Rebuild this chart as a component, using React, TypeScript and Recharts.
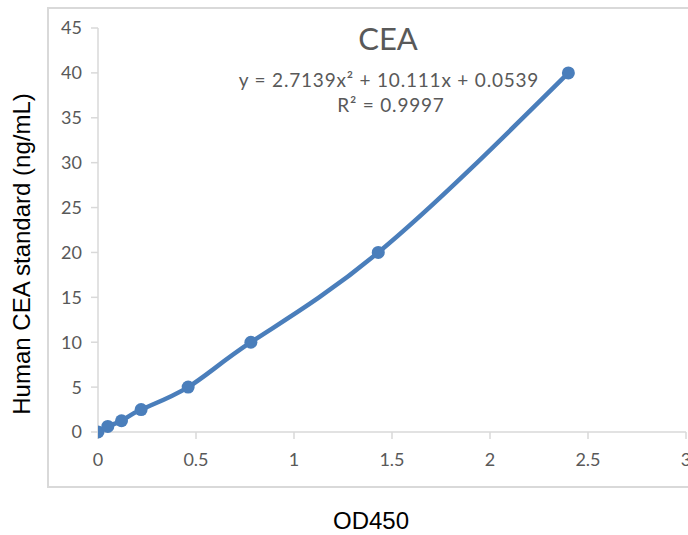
import React from 'react';
import { LineChart, Line, XAxis, YAxis } from 'recharts';

const odValues = [0, 0.05, 0.12, 0.22, 0.46, 0.78, 1.43, 2.4];
const ceaValues = [0, 0.625, 1.25, 2.5, 5, 10, 20, 40];
const xTicks = [0, 0.5, 1, 1.5, 2, 2.5, 3];
const yTicks = [0, 5, 10, 15, 20, 25, 30, 35, 40, 45];

const chartTitle = 'CEA';
const equationText = 'y = 2.7139x² + 10.111x + 0.0539';
const r2Text = 'R² = 0.9997';
const xTitle = 'OD450';
const yTitle = 'Human CEA standard (ng/mL)';

const data = odValues.map((od, i) => ({ od, cea: ceaValues[i] }));

const BLUE = '#4a7ebb';
const AXIS = '#d9d9d9';
const TICK_TEXT = '#595959';
const tickFont = { fill: TICK_TEXT, fontSize: 18, fontFamily: 'Lato, sans-serif' };

export default function App() {
  return (
    <div style={{ position: 'absolute', left: 0, top: 0, width: 688, height: 535, background: '#fff', overflow: 'hidden' }}>
      <div
        style={{
          position: 'absolute',
          left: 47,
          top: 7,
          width: 641,
          height: 481,
          borderTop: `2px solid ${AXIS}`,
          borderLeft: `2px solid ${AXIS}`,
          borderBottom: `2px solid ${AXIS}`,
          boxSizing: 'border-box',
        }}
      />
      <div style={{ position: 'absolute', left: 0, top: 0 }}>
        <LineChart width={688} height={535} data={data} margin={{ top: 28, right: 2, bottom: 73, left: 38 }}>
          <XAxis
            dataKey="od"
            type="number"
            domain={[0, 3]}
            ticks={xTicks}
            height={30}
            tickSize={7}
            tickMargin={14}
            axisLine={{ stroke: AXIS, strokeWidth: 1.5 }}
            tickLine={{ stroke: AXIS, strokeWidth: 1.5 }}
            tick={tickFont}
            interval={0}
            allowDataOverflow
          />
          <YAxis
            dataKey="cea"
            type="number"
            domain={[0, 45]}
            ticks={yTicks}
            width={60}
            tickSize={7}
            tickMargin={9}
            axisLine={{ stroke: AXIS, strokeWidth: 1.5 }}
            tickLine={{ stroke: AXIS, strokeWidth: 1.5 }}
            tick={tickFont}
            interval={0}
          />
          <Line
            type="natural"
            dataKey="cea"
            stroke={BLUE}
            strokeWidth={4.5}
            dot={{ r: 6.5, fill: BLUE, stroke: BLUE, strokeWidth: 0 }}
            activeDot={false}
            isAnimationActive={false}
          />
        </LineChart>
      </div>
      <svg width={688} height={535} style={{ position: 'absolute', left: 0, top: 0, pointerEvents: 'none' }}>
        <text x={388} y={50} textAnchor="middle" fill={TICK_TEXT} fontSize={31} fontFamily="Lato, sans-serif">
          {chartTitle}
        </text>
        <text x={389} y={87} textAnchor="middle" fill={TICK_TEXT} fontSize={19} letterSpacing={0.8} fontFamily="Lato, sans-serif">
          {equationText}
        </text>
        <text x={391} y={112} textAnchor="middle" fill={TICK_TEXT} fontSize={19} letterSpacing={0.8} fontFamily="Lato, sans-serif">
          {r2Text}
        </text>
        <text x={371} y={529} textAnchor="middle" fill="#000" fontSize={24} fontFamily="'Liberation Sans', Arial, sans-serif">
          {xTitle}
        </text>
        <text
          x={30}
          y={254}
          textAnchor="middle"
          fill="#000"
          fontSize={24}
          fontFamily="'Liberation Sans', Arial, sans-serif"
          transform="rotate(-90, 30, 254)"
        >
          {yTitle}
        </text>
      </svg>
    </div>
  );
}
